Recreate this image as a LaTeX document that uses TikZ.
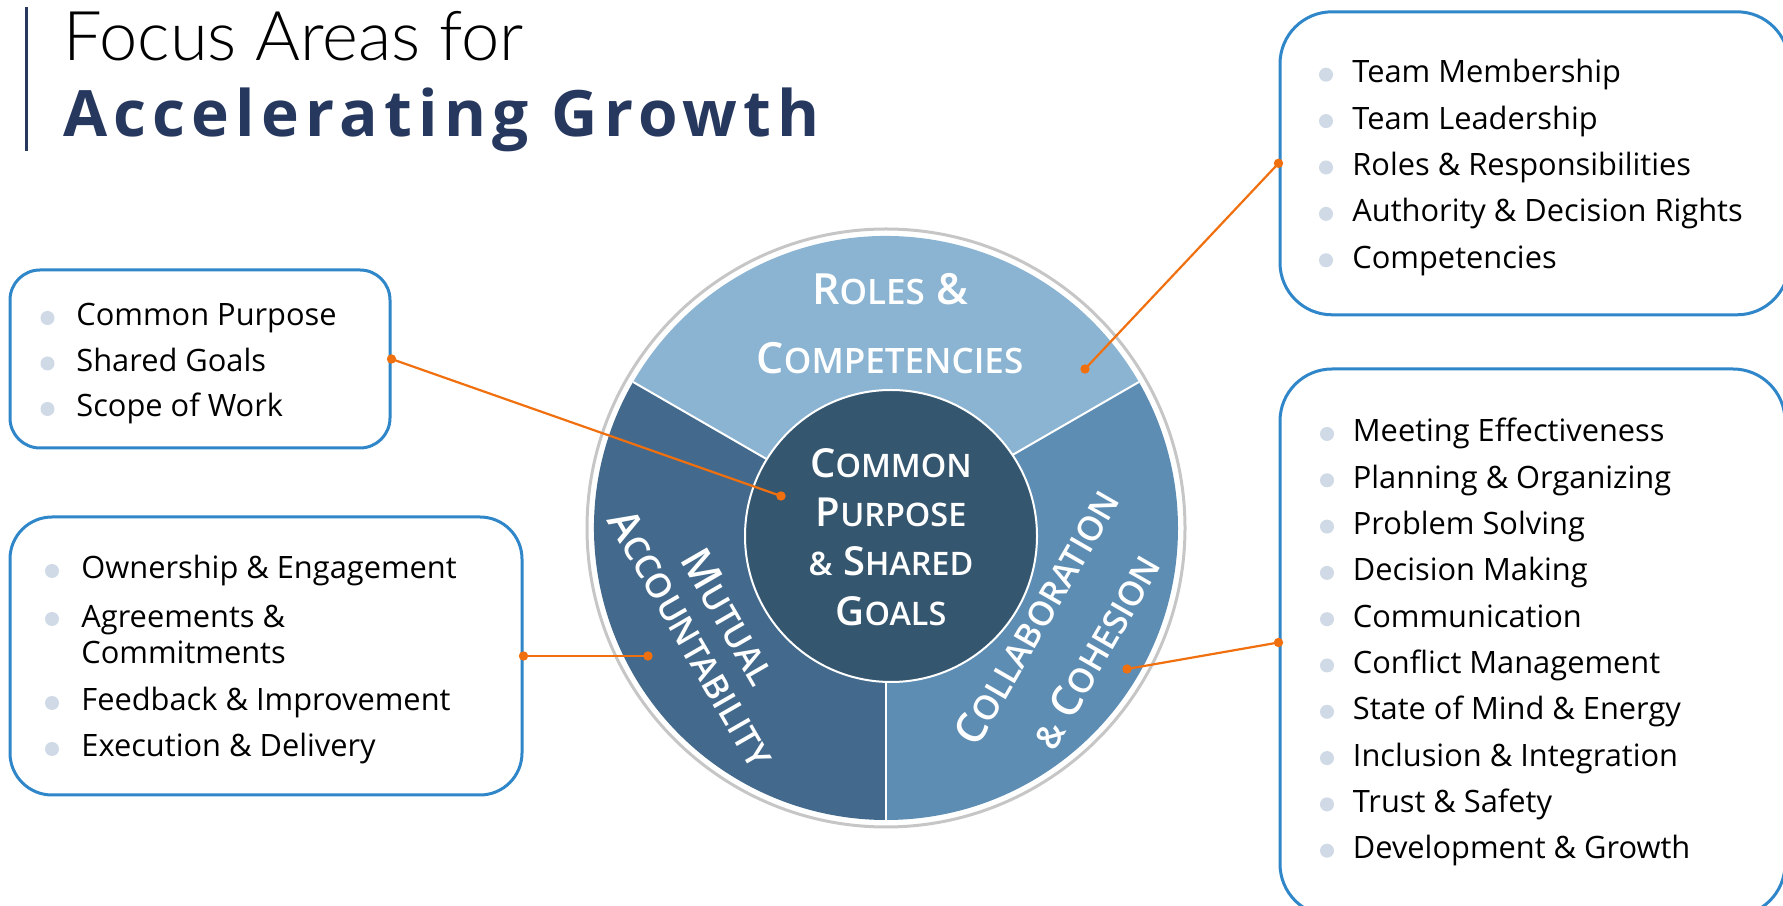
\documentclass[tikz,border=0pt]{standalone}
\usepackage{fontspec}
\setmainfont{Open Sans}
\newfontfamily\titlefont{Lato Light}
\newfontfamily\growthfont{Open Sans}[LetterSpace=9.7]
\newfontfamily\wheelfont{Open Sans Semibold}
\usetikzlibrary{positioning}

\definecolor{navy}{HTML}{27385F}
\definecolor{boxblue}{HTML}{2F86C8}
\definecolor{dotgray}{HTML}{CFDAE6}
\definecolor{linkorange}{HTML}{F0700F}
\definecolor{roleblue}{HTML}{8BB4D2}
\definecolor{collabblue}{HTML}{5E8DB4}
\definecolor{mutualblue}{HTML}{436A8D}
\definecolor{coreblue}{HTML}{35566F}
\definecolor{ringgray}{HTML}{C6C6C6}

% first letter large, the rest as small capitals
\def\capbig{22}
\def\capsmall{18}
\newcommand{\capsc}[2]{{\fontsize{\capbig}{\capbig}\selectfont #1}{\fontsize{\capsmall}{\capsmall}\selectfont #2}}

\tikzset{
  listbox/.style={draw=boxblue, line width=1.5pt, fill=white, inner sep=0pt},
  item/.style={anchor=base west, inner sep=0pt, align=left,
    font=\fontsize{15.4}{18.25}\selectfont},
  bulletdot/.style={fill=dotgray},
  link/.style={draw=linkorange, line width=1.1pt},
  linkdot/.style={circle, fill=linkorange, inner sep=0pt, minimum size=4.7pt},
  wheeltext/.style={text=white, align=center, inner sep=0pt},
}

\begin{document}
\begin{tikzpicture}[x=0.5pt, y=0.5pt]
  \useasboundingbox (0,0) rectangle (1783,905);

  % title
  \draw[navy, line width=1.5pt] (26.7,754) -- (26.7,898);
  \node[anchor=base west, inner sep=0pt, font=\titlefont\fontsize{34.3}{40}\selectfont]
    (title top) at (63,844) {Focus Areas for};
  \node[anchor=base west, inner sep=0pt, text=navy,
    font=\growthfont\bfseries\fontsize{32}{38}\selectfont]
    (title bottom) at (63,768) {Accelerating Growth};

  % wheel
  \coordinate (hub) at (886,377);
  \fill[roleblue] (hub) -- ++(30:292) arc[start angle=30, end angle=150, radius=292] -- cycle;
  \fill[mutualblue] (hub) -- ++(150:292) arc[start angle=150, end angle=270, radius=292] -- cycle;
  \fill[collabblue] (hub) -- ++(270:292) arc[start angle=270, end angle=390, radius=292] -- cycle;
  \draw[ringgray, line width=1.5pt] (hub) circle[radius=299];
  \foreach \a in {30,150,270}
    \draw[white, line width=1pt] (hub) -- ++(\a:292);
  \node[circle, fill=coreblue, draw=white, line width=1pt, minimum size=146pt, inner sep=0pt]
    (core) at (891,369) {};

  \node[wheeltext, font=\def\capbig{21.5}\def\capsmall{17.5}\wheelfont\fontsize{21.5}{34.5}\selectfont]
    (roles) at (890,581.5)
    {\capsc{R}{OLES} \capsc{\&}{}\\\capsc{C}{OMPETENCIES}};
  \node[wheeltext, font=\def\capbig{20}\def\capsmall{16.2}\wheelfont\fontsize{20}{24.7}\selectfont]
    (core text) at (891,368)
    {\capsc{C}{OMMON}\\\capsc{P}{URPOSE}\\\capsc{}{\&} \capsc{S}{HARED}\\\capsc{G}{OALS}};
  \node[wheeltext, rotate=-60, font=\def\capbig{21}\def\capsmall{17}\wheelfont\fontsize{21}{21.5}\selectfont]
    (mutual) at (710.5,277.5)
    {\capsc{M}{UTUAL}\\\capsc{A}{CCOUNTABILITY}};
  \node[wheeltext, rotate=60, font=\def\capbig{21}\def\capsmall{17}\wheelfont\fontsize{21}{34}\selectfont]
    (collab) at (1065.7,270.8)
    {\capsc{C}{OLLABORATION}\\\capsc{}{\&} \capsc{C}{OHESION}};

  % list boxes
  \node[listbox, rounded corners=15pt, minimum width=190pt, minimum height=89pt]
    (purpose box) at (200,546) {};
  \foreach \t [count=\i from 0] in {Common Purpose, Shared Goals, Scope of Work} {
    \fill[bulletdot] (47.5,{587-\i*45.5}) circle[radius=7];
    \node[item] (purpose item\i) at (76,{579-\i*45.5}) {\t};
  }

  \node[listbox, rounded corners=21pt, minimum width=256pt, minimum height=139pt]
    (mutual box) at (266,249) {};
  \foreach \y/\ty/\t [count=\i] in {326/326/{Ownership \& Engagement},
      278/241.5/{Agreements \&\\Commitments},
      194/194/{Feedback \& Improvement}, 148/148/{Execution \& Delivery}} {
    \fill[bulletdot] (52,\y+8) circle[radius=7];
    \node[item] (mutual item\i) at (81,\ty) {\t};
  }

  \node[listbox, rounded corners=26pt, minimum width=254.5pt, minimum height=151.5pt]
    (roles box) at (1534.5,741.7) {};
  \foreach \t [count=\i from 0] in {Team Membership, Team Leadership,
      Roles \& Responsibilities, Authority \& Decision Rights, Competencies} {
    \fill[bulletdot] (1326,{830.3-\i*46.4}) circle[radius=7];
    \node[item] (roles item\i) at (1352,{822.3-\i*46.4}) {\t};
  }

  \node[listbox, rounded corners=26pt, minimum width=252.5pt, minimum height=273.5pt]
    (collab box) at (1532.5,262.5) {};
  \foreach \t [count=\i from 0] in {Meeting Effectiveness, Planning \& Organizing,
      Problem Solving, Decision Making, Communication, Conflict Management,
      State of Mind \& Energy, Inclusion \& Integration, Trust \& Safety,
      Development \& Growth} {
    \fill[bulletdot] (1327,{471-\i*46.3}) circle[radius=7];
    \node[item] (collab item\i) at (1352.5,{463-\i*46.3}) {\t};
  }

  % connectors
  \node[linkdot] (core dot) at (781,409) {};
  \node[linkdot] (mutual dot) at (648,249) {};
  \node[linkdot] (roles dot) at (1085,536) {};
  \node[linkdot] (collab dot) at (1127,236) {};
  \draw[link] (purpose box.east) -- (core dot.center);
  \draw[link] (mutual box.east) -- (mutual dot.center);
  \draw[link] (roles box.west) -- (roles dot.center);
  \draw[link] (collab box.west) -- (collab dot.center);
  \foreach \b/\s in {purpose box/east, mutual box/east, roles box/west, collab box/west}
    \fill[linkorange] (\b.\s) circle[radius=4.7];
\end{tikzpicture}
\end{document}
